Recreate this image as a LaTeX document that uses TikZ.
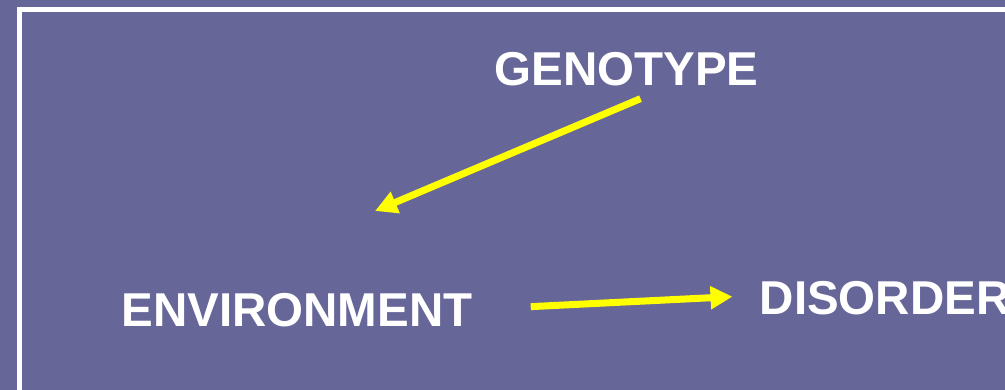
\documentclass[tikz,border=0pt]{standalone}
\usepackage{fontspec}
\setmainfont{Liberation Sans}
\usetikzlibrary{arrows.meta}
\definecolor{slate}{RGB}{102,102,153}
\definecolor{linkyellow}{RGB}{255,255,0}

\begin{document}
\begin{tikzpicture}[x=1pt, y=1pt, >={Triangle[length=22pt, width=22pt]}]
  \tikzstyle{term} = [text=white, inner sep=0pt, font=\fontsize{47.5}{50}\selectfont\bfseries]
  \tikzstyle{link} = [->, draw=linkyellow, fill=linkyellow, line width=7pt]
  % background and frame
  \fill [slate] (0,0) rectangle (1005,390);
  \useasboundingbox (0,0) rectangle (1005,390);
  \draw [white, line width=5pt] (19.5,380.8) rectangle (1040,-40);

  \node [term, anchor=base] (geno) at (626.5,304) {GENOTYPE};
  \node [term, anchor=base] (env) at (297,63) {ENVIRONMENT};
  \node [term, anchor=base west] (dis) at (759.5,75) {DISORDER};

  \coordinate (gtail) at ([xshift=14pt, yshift=-12pt]geno.south);
  \coordinate (ghead) at (375,179);
  \coordinate (etail) at ([xshift=58pt, yshift=21pt]env.south east);
  \coordinate (dhead) at ([xshift=-27pt, yshift=19pt]dis.south west);

  \draw [link] (gtail) -- (ghead);
  \draw [link] (etail) -- (dhead);
\end{tikzpicture}
\end{document}
